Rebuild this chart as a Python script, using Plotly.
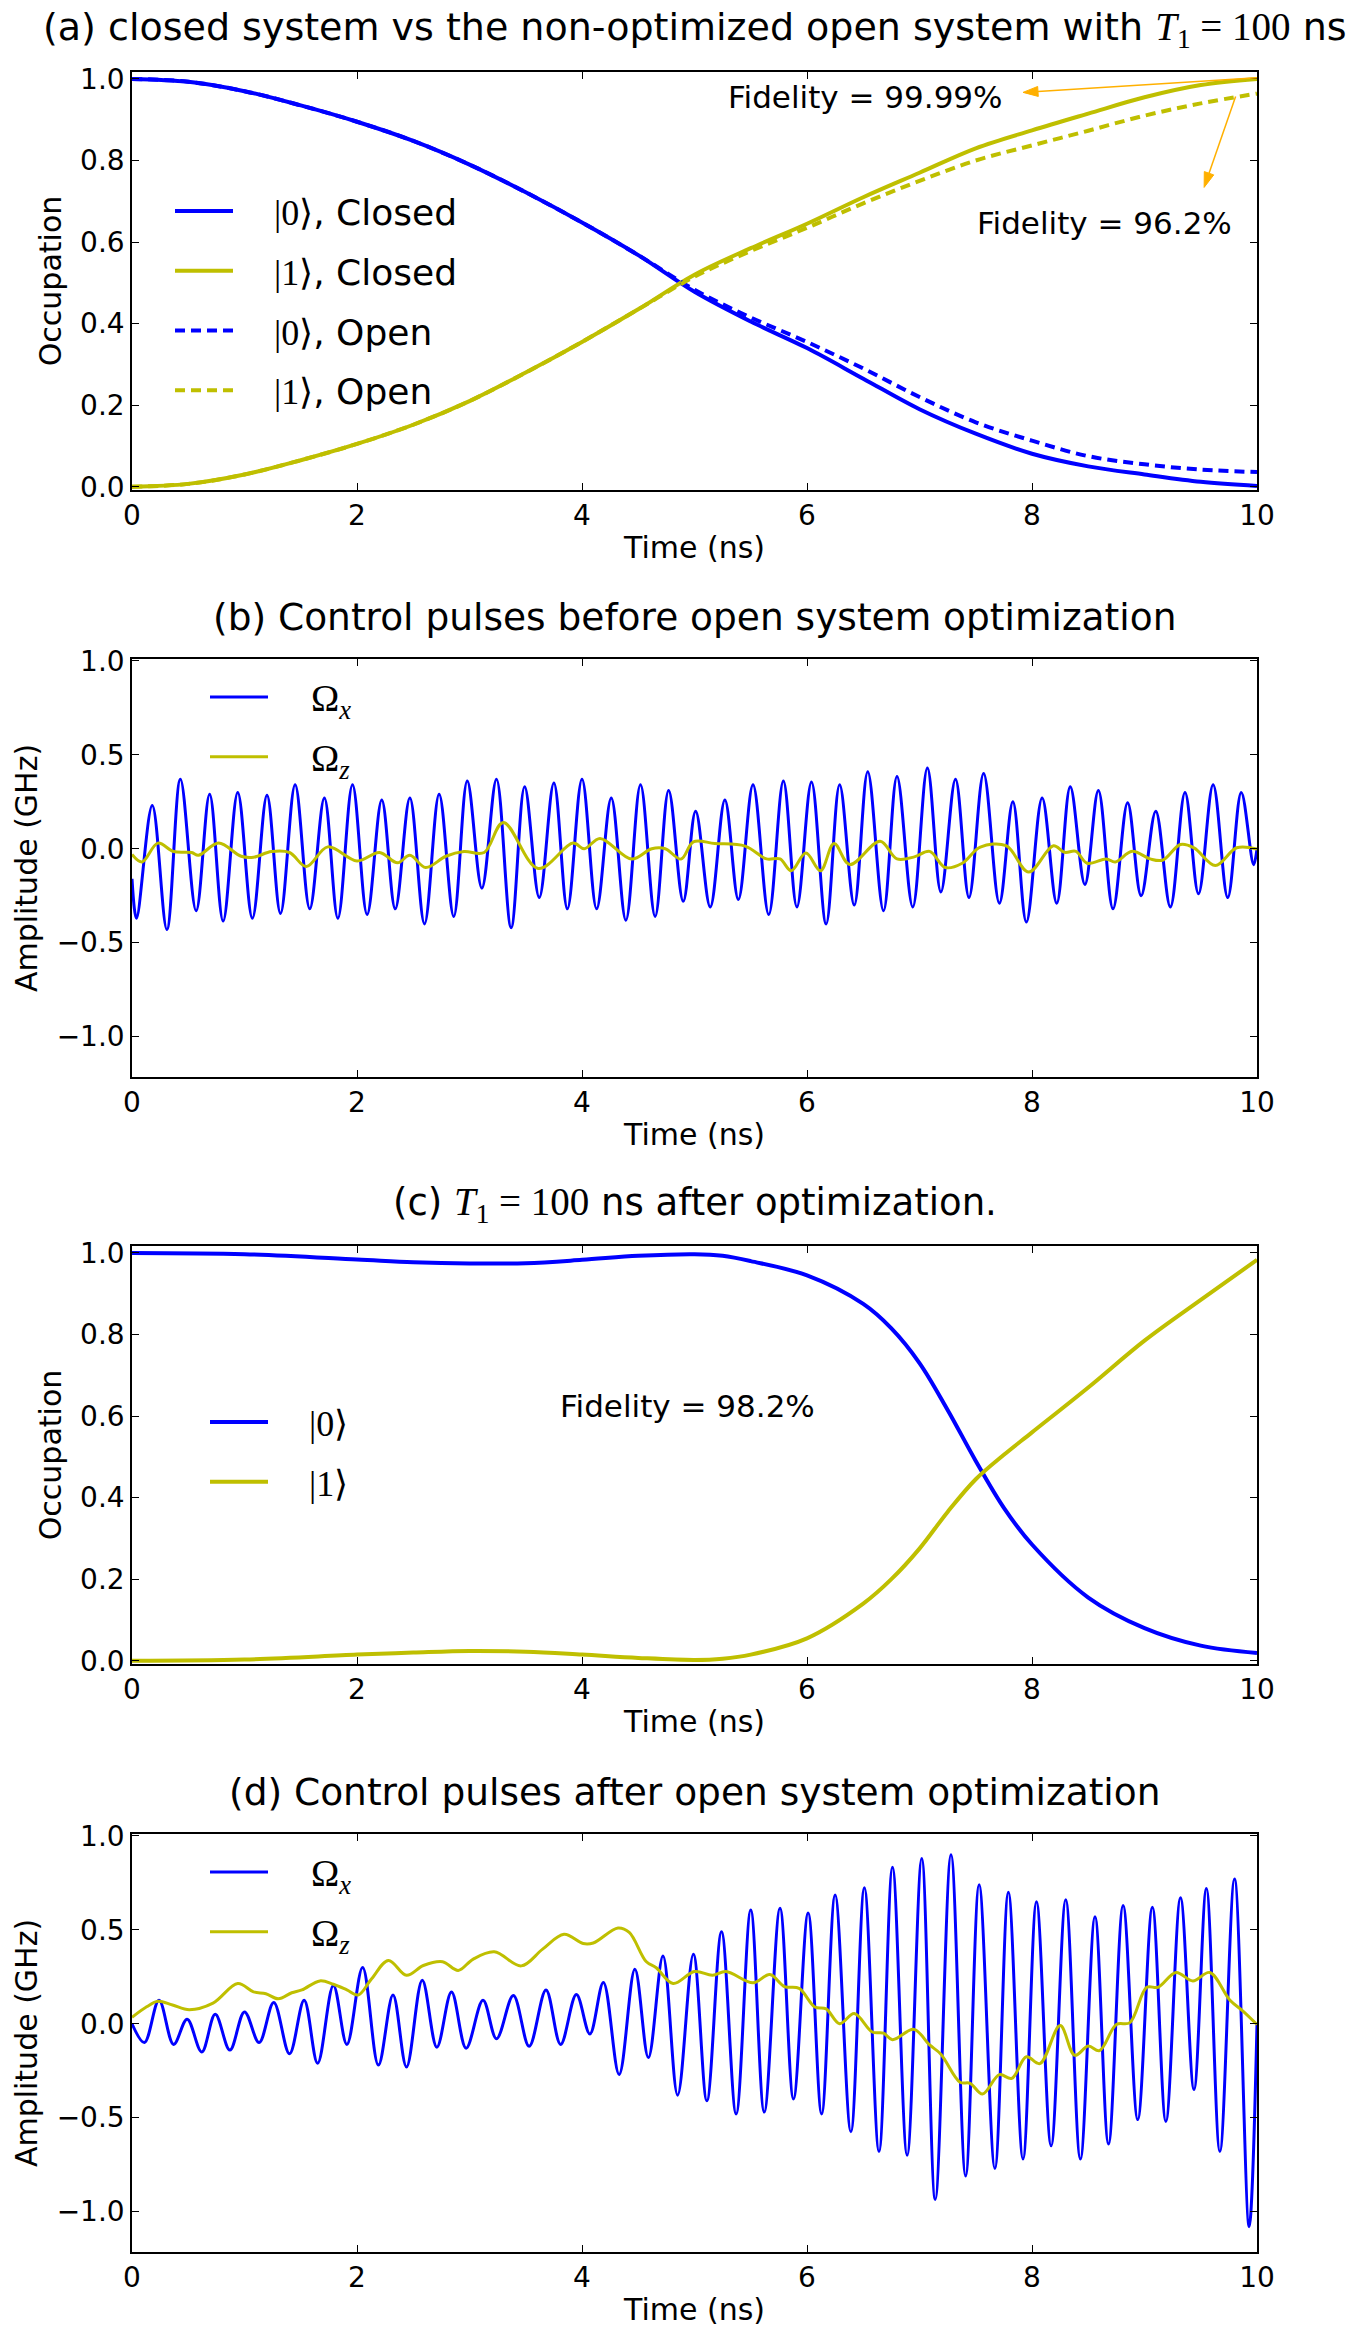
import plotly.graph_objects as go

# ---------------- data ----------------
# (a) closed vs non-optimized open system
t_a = [0, 0.5, 1, 1.5, 2, 2.5, 3, 3.5, 4, 4.5, 5, 5.5, 6, 6.5, 7, 7.5, 8, 8.5, 9, 9.5, 10]
occ0_closed = [1.0, 0.993, 0.970, 0.935, 0.895, 0.848, 0.790, 0.722, 0.648, 0.568, 0.478, 0.405,
               0.340, 0.265, 0.190, 0.130, 0.081, 0.050, 0.030, 0.012, 0.002]
occ1_closed = [0.0, 0.007, 0.030, 0.065, 0.105, 0.152, 0.210, 0.280, 0.355, 0.435, 0.520, 0.585,
               0.645, 0.710, 0.770, 0.830, 0.874, 0.915, 0.955, 0.985, 1.0]
occ0_open = [1.0, 0.993, 0.970, 0.935, 0.895, 0.848, 0.790, 0.722, 0.648, 0.568, 0.483, 0.415,
             0.355, 0.290, 0.220, 0.158, 0.113, 0.075, 0.055, 0.042, 0.036]
occ1_open = [0.0, 0.007, 0.030, 0.065, 0.105, 0.152, 0.210, 0.280, 0.355, 0.435, 0.515, 0.578,
             0.635, 0.695, 0.750, 0.800, 0.837, 0.873, 0.910, 0.940, 0.964]

# (b) control pulses before optimization (extrema)
pulse_b_x = [(0.00, -0.16), (0.04, -0.37), (0.18, 0.23), (0.31, -0.43), (0.43, 0.37), (0.57, -0.33),
             (0.69, 0.29), (0.81, -0.385), (0.94, 0.30), (1.07, -0.37), (1.20, 0.285), (1.32, -0.345),
             (1.45, 0.34), (1.58, -0.32), (1.71, 0.27), (1.83, -0.37), (1.96, 0.34), (2.09, -0.35),
             (2.22, 0.26), (2.34, -0.32), (2.47, 0.27), (2.60, -0.40), (2.73, 0.29), (2.86, -0.36),
             (2.98, 0.36), (3.11, -0.21), (3.24, 0.37), (3.37, -0.42), (3.49, 0.33), (3.62, -0.26),
             (3.75, 0.35), (3.87, -0.32), (4.00, 0.37), (4.13, -0.32), (4.26, 0.27), (4.39, -0.38),
             (4.52, 0.34), (4.65, -0.36), (4.77, 0.31), (4.90, -0.28), (5.01, 0.20), (5.14, -0.31),
             (5.27, 0.26), (5.39, -0.27), (5.52, 0.34), (5.66, -0.35), (5.79, 0.36), (5.91, -0.31),
             (6.04, 0.355), (6.17, -0.40), (6.29, 0.34), (6.42, -0.30), (6.54, 0.41), (6.68, -0.33),
             (6.80, 0.385), (6.94, -0.31), (7.07, 0.43), (7.19, -0.23), (7.32, 0.37), (7.44, -0.26),
             (7.57, 0.40), (7.71, -0.29), (7.83, 0.25), (7.95, -0.39), (8.09, 0.27), (8.22, -0.29),
             (8.34, 0.33), (8.47, -0.19), (8.59, 0.31), (8.72, -0.32), (8.85, 0.245), (8.97, -0.25),
             (9.10, 0.20), (9.23, -0.31), (9.36, 0.30), (9.48, -0.24), (9.61, 0.34), (9.74, -0.26),
             (9.86, 0.30), (9.97, -0.085), (10.0, 0.0)]
pulse_b_z = [(0.00, -0.03), (0.09, -0.07), (0.23, 0.03), (0.37, -0.015), (0.53, -0.02), (0.59, -0.035),
             (0.77, 0.03), (0.97, -0.04), (1.08, -0.045), (1.24, -0.015), (1.40, -0.02), (1.55, -0.095),
             (1.74, 0.01), (2.00, -0.065), (2.20, -0.02), (2.36, -0.075), (2.47, -0.035), (2.61, -0.10),
             (2.79, -0.04), (2.95, -0.015), (3.13, -0.02), (3.30, 0.14), (3.61, -0.105), (3.92, 0.03),
             (4.02, 0.0), (4.16, 0.055), (4.44, -0.055), (4.62, 0.0), (4.74, 0.0), (4.88, -0.055),
             (4.99, 0.037), (5.18, 0.028), (5.45, 0.014), (5.64, -0.054), (5.76, -0.054), (5.86, -0.117),
             (5.99, -0.023), (6.12, -0.117), (6.24, 0.028), (6.38, -0.084), (6.65, 0.040), (6.80, -0.054),
             (6.96, -0.042), (7.09, -0.014), (7.23, -0.100), (7.38, -0.077), (7.54, 0.009), (7.77, 0.016),
             (7.97, -0.124), (8.19, 0.016), (8.29, -0.019), (8.39, -0.014), (8.49, -0.077), (8.66, -0.054),
             (8.74, -0.070), (8.89, -0.014), (9.05, -0.054), (9.16, -0.061), (9.32, 0.023), (9.44, 0.005),
             (9.63, -0.089), (9.82, 0.005), (10.0, -0.002)]

# (c) after optimization
t_c = [0, 1, 2, 2.5, 3, 3.5, 4, 4.5, 5, 5.25, 5.5, 6, 6.5, 6.75, 7, 7.25, 7.5, 7.75, 8, 8.5, 9, 9.5, 10]
occ0_opt = [1.0, 0.997, 0.984, 0.977, 0.974, 0.975, 0.983, 0.993, 0.997, 0.993, 0.980, 0.945,
            0.875, 0.815, 0.730, 0.615, 0.490, 0.375, 0.285, 0.155, 0.080, 0.037, 0.019]
occ1_opt = [0.0, 0.003, 0.015, 0.020, 0.024, 0.022, 0.015, 0.007, 0.002, 0.005, 0.015, 0.055,
            0.140, 0.200, 0.275, 0.365, 0.445, 0.505, 0.560, 0.670, 0.785, 0.885, 0.983]

# (d) control pulses after optimization
pulse_d_x = [(0.00, 0.0), (0.11, -0.10), (0.24, 0.125), (0.37, -0.11), (0.49, 0.024), (0.62, -0.15),
             (0.74, 0.05), (0.87, -0.14), (1.00, 0.063), (1.13, -0.10), (1.26, 0.113), (1.40, -0.16),
             (1.53, 0.125), (1.65, -0.21), (1.79, 0.204), (1.91, -0.11), (2.05, 0.30), (2.19, -0.22),
             (2.32, 0.153), (2.44, -0.23), (2.58, 0.232), (2.71, -0.125), (2.84, 0.169), (2.97, -0.13),
             (3.12, 0.125), (3.24, -0.08), (3.39, 0.15), (3.53, -0.12), (3.68, 0.18), (3.81, -0.11),
             (3.95, 0.155), (4.07, -0.054), (4.19, 0.22), (4.33, -0.27), (4.47, 0.29), (4.59, -0.18),
             (4.72, 0.36), (4.85, -0.38), (4.99, 0.37), (5.11, -0.41), (5.24, 0.49), (5.37, -0.48),
             (5.50, 0.605), (5.62, -0.47), (5.76, 0.615), (5.88, -0.40), (6.01, 0.59), (6.13, -0.48),
             (6.25, 0.685), (6.39, -0.575), (6.51, 0.724), (6.64, -0.68), (6.76, 0.833), (6.89, -0.70),
             (7.02, 0.88), (7.14, -0.935), (7.28, 0.90), (7.41, -0.81), (7.53, 0.74), (7.67, -0.77),
             (7.79, 0.70), (7.92, -0.72), (8.04, 0.65), (8.17, -0.65), (8.30, 0.66), (8.43, -0.72),
             (8.56, 0.57), (8.68, -0.64), (8.81, 0.63), (8.94, -0.51), (9.07, 0.62), (9.19, -0.52),
             (9.32, 0.67), (9.44, -0.35), (9.55, 0.72), (9.67, -0.68), (9.80, 0.77), (9.93, -1.08),
             (10.0, 0.0)]
pulse_d_z = [(0.00, 0.034), (0.13, 0.09), (0.23, 0.12), (0.36, 0.10), (0.51, 0.075), (0.72, 0.11),
             (0.94, 0.214), (1.08, 0.17), (1.19, 0.16), (1.30, 0.133), (1.42, 0.165), (1.51, 0.18),
             (1.67, 0.228), (1.79, 0.21), (1.91, 0.18), (2.01, 0.153), (2.13, 0.24), (2.28, 0.337),
             (2.44, 0.258), (2.59, 0.31), (2.76, 0.33), (2.90, 0.284), (3.03, 0.343), (3.22, 0.383),
             (3.46, 0.308), (3.65, 0.397), (3.84, 0.476), (4.01, 0.427), (4.10, 0.43), (4.32, 0.51),
             (4.42, 0.486), (4.57, 0.331), (4.66, 0.298), (4.81, 0.214), (5.00, 0.278), (5.16, 0.258),
             (5.28, 0.278), (5.52, 0.218), (5.67, 0.262), (5.80, 0.198), (5.93, 0.188), (6.07, 0.089),
             (6.17, 0.079), (6.29, 0.0), (6.42, 0.054), (6.58, -0.044), (6.68, -0.05), (6.76, -0.085),
             (6.95, -0.03), (7.09, -0.113), (7.19, -0.162), (7.36, -0.311), (7.45, -0.317), (7.56, -0.374),
             (7.71, -0.271), (7.82, -0.291), (7.95, -0.176), (8.07, -0.212), (8.25, -0.01), (8.38, -0.168),
             (8.50, -0.119), (8.60, -0.143), (8.75, -0.004), (8.87, 0.006), (9.02, 0.194), (9.12, 0.194),
             (9.28, 0.273), (9.43, 0.228), (9.58, 0.273), (9.76, 0.125), (9.88, 0.065), (10.0, -0.004)]

x_ticks = [0, 2, 4, 6, 8, 10]
occ_ticks = [0.0, 0.2, 0.4, 0.6, 0.8, 1.0]
amp_ticks = [-1.0, -0.5, 0.0, 0.5, 1.0]

# ---------------- styling ----------------
BLUE = "#0000ff"
YEL = "#bfbf00"
ORANGE = "#ffb000"
FONT = "DejaVu Sans"
SERIF = "Liberation Serif"
W, H = 1363, 2335
X0, X1 = 132, 1257
TOPS = [72, 659, 1246, 1834]
PH = 418
GAP = "\u2002\u2002"


def serif(txt, size):
    return f"<span style='font-family:{SERIF};font-size:{size}px'>{txt}</span>"


def ket(k):
    return serif(f"{GAP}|{k}\u27e9", 36)


def omega(s):
    return serif(f"{GAP}\u03a9<sub><i>{s}</i></sub>", 38)


T1 = serif("<i>T</i><sub>1</sub> = 100", 39)
titles = [
    "(a) closed system vs the non-optimized open system with " + T1 + " ns",
    "(b) Control pulses before open system optimization",
    "(c) " + T1 + " ns after optimization.",
    "(d) Control pulses after open system optimization",
]
title_sizes = [38, 37.5, 37, 37.5]


def unzip(pairs):
    return [p[0] for p in pairs], [p[1] for p in pairs]


fig = go.Figure()

# (a)
fig.add_trace(go.Scatter(x=t_a, y=occ0_closed, mode="lines", line=dict(color=BLUE, width=4, shape="spline"),
                         name=ket(0) + ", Closed", legend="legend", legendgroup="a1", xaxis="x", yaxis="y"))
fig.add_trace(go.Scatter(x=t_a, y=occ1_closed, mode="lines", line=dict(color=YEL, width=4, shape="spline"),
                         name=ket(1) + ", Closed", legend="legend", legendgroup="a2", xaxis="x", yaxis="y"))
fig.add_trace(go.Scatter(x=t_a, y=occ0_open, mode="lines",
                         line=dict(color=BLUE, width=4, dash="10px,6px", shape="spline"),
                         name=ket(0) + ", Open", legend="legend", legendgroup="a3", xaxis="x", yaxis="y"))
fig.add_trace(go.Scatter(x=t_a, y=occ1_open, mode="lines",
                         line=dict(color=YEL, width=4, dash="10px,6px", shape="spline"),
                         name=ket(1) + ", Open", legend="legend", legendgroup="a4", xaxis="x", yaxis="y"))

# (b)
tb, vb = unzip(pulse_b_x)
fig.add_trace(go.Scatter(x=tb, y=vb, mode="lines", line=dict(color=BLUE, width=3, shape="spline"),
                         name=omega("x"), legend="legend2", legendgroup="b1", xaxis="x2", yaxis="y2"))
tb, vb = unzip(pulse_b_z)
fig.add_trace(go.Scatter(x=tb, y=vb, mode="lines", line=dict(color=YEL, width=3, shape="spline"),
                         name=omega("z"), legend="legend2", legendgroup="b2", xaxis="x2", yaxis="y2"))

# (c)
fig.add_trace(go.Scatter(x=t_c, y=occ0_opt, mode="lines", line=dict(color=BLUE, width=4, shape="spline"),
                         name=ket(0), legend="legend3", legendgroup="c1", xaxis="x3", yaxis="y3"))
fig.add_trace(go.Scatter(x=t_c, y=occ1_opt, mode="lines", line=dict(color=YEL, width=4, shape="spline"),
                         name=ket(1), legend="legend3", legendgroup="c2", xaxis="x3", yaxis="y3"))

# (d)
td, vd = unzip(pulse_d_x)
fig.add_trace(go.Scatter(x=td, y=vd, mode="lines", line=dict(color=BLUE, width=3, shape="spline"),
                         name=omega("x"), legend="legend4", legendgroup="d1", xaxis="x4", yaxis="y4"))
td, vd = unzip(pulse_d_z)
fig.add_trace(go.Scatter(x=td, y=vd, mode="lines", line=dict(color=YEL, width=3, shape="spline"),
                         name=omega("z"), legend="legend4", legendgroup="d2", xaxis="x4", yaxis="y4"))

axis_common = dict(showline=True, linecolor="#000", linewidth=1.5, mirror="allticks", ticks="inside",
                   ticklen=7, tickwidth=1.2, tickcolor="#000", showgrid=False, zeroline=False,
                   tickfont=dict(family=FONT, size=28, color="#000"), automargin=False)

layout = dict(width=W, height=H, margin=dict(l=0, r=0, t=0, b=0), paper_bgcolor="white",
              plot_bgcolor="white", font=dict(family=FONT, color="#000"), showlegend=True)

xrange_all = [0, 10]
yranges = [[-0.008, 1.017], [-1.215, 1.01], [-0.008, 1.017], [-1.215, 1.01]]
ytitles = ["Occupation", "Amplitude (GHz)", "Occupation", "Amplitude (GHz)"]
yticks = [occ_ticks, amp_ticks, occ_ticks, amp_ticks]
for i in range(4):
    sx = "" if i == 0 else str(i + 1)
    top = TOPS[i]
    layout["xaxis" + sx] = dict(axis_common, domain=[X0 / W, X1 / W], range=xrange_all, tickvals=x_ticks,
                                anchor="y" + sx,
                                title=dict(text="Time (ns)", font=dict(family=FONT, size=30), standoff=6))
    layout["yaxis" + sx] = dict(axis_common, domain=[1 - (top + PH) / H, 1 - top / H], range=yranges[i],
                                tickvals=yticks[i], tickformat=".1f", anchor="x" + sx,
                                title=dict(text=ytitles[i], font=dict(family=FONT, size=30), standoff=10))

leg_common = dict(xanchor="left", yanchor="top", bgcolor="rgba(0,0,0,0)", borderwidth=0,
                  font=dict(family=FONT, size=36, color="#000"), itemwidth=58,
                  traceorder="grouped", tracegroupgap=10)
layout["legend"] = dict(leg_common, x=170 / W, y=1 - 181 / H)
layout["legend2"] = dict(leg_common, x=205 / W, y=1 - 667 / H)
layout["legend3"] = dict(leg_common, x=205 / W, y=1 - 1392 / H)
layout["legend4"] = dict(leg_common, x=205 / W, y=1 - 1842 / H)

anns = []
for i, ttl in enumerate(titles):
    anns.append(dict(text=ttl, xref="paper", yref="paper", x=(X0 + X1) / 2 / W, y=1 - (TOPS[i] - 42) / H,
                     xanchor="center", yanchor="middle", showarrow=False,
                     font=dict(family=FONT, size=title_sizes[i])))
anns += [
    dict(text="Fidelity = 99.99%", xref="x", yref="y", x=6.52, y=0.956, showarrow=False,
         font=dict(family=FONT, size=31)),
    dict(text="Fidelity = 96.2%", xref="x", yref="y", x=8.64, y=0.647, showarrow=False,
         font=dict(family=FONT, size=31)),
    dict(text="Fidelity = 98.2%", xref="x3", yref="y3", x=4.94, y=0.625, showarrow=False,
         font=dict(family=FONT, size=31)),
]
layout["annotations"] = anns

# arrows from the curve ends to the fidelity labels (line + filled head), panel (a)
sx_px = (X1 - X0) / (xrange_all[1] - xrange_all[0])
sy_px = PH / (yranges[0][1] - yranges[0][0])
arrows = [((10.0, 1.003), (7.92, 0.967)), ((9.81, 0.957), (9.53, 0.734))]
shapes = []
for tail, head in arrows:
    tx, ty = tail[0] * sx_px, tail[1] * sy_px
    hx, hy = head[0] * sx_px, head[1] * sy_px
    dx, dy = hx - tx, hy - ty
    L = (dx * dx + dy * dy) ** 0.5
    ux, uy = dx / L, dy / L
    nx, ny = -uy, ux
    hl, hw = 15.0, 5.0
    bx, by = hx - ux * hl, hy - uy * hl
    p1 = (bx + nx * hw, by + ny * hw)
    p2 = (bx - nx * hw, by - ny * hw)
    shapes.append(dict(type="line", xref="x", yref="y", x0=tail[0], y0=tail[1],
                       x1=bx / sx_px, y1=by / sy_px, line=dict(color=ORANGE, width=1.5)))
    path = "M{:.4f},{:.4f} L{:.4f},{:.4f} L{:.4f},{:.4f} Z".format(
        hx / sx_px, hy / sy_px, p1[0] / sx_px, p1[1] / sy_px, p2[0] / sx_px, p2[1] / sy_px)
    shapes.append(dict(type="path", xref="x", yref="y", path=path, fillcolor=ORANGE,
                       line=dict(color=ORANGE, width=1)))
layout["shapes"] = shapes

fig.update_layout(**layout)
fig.write_html("out.html")
